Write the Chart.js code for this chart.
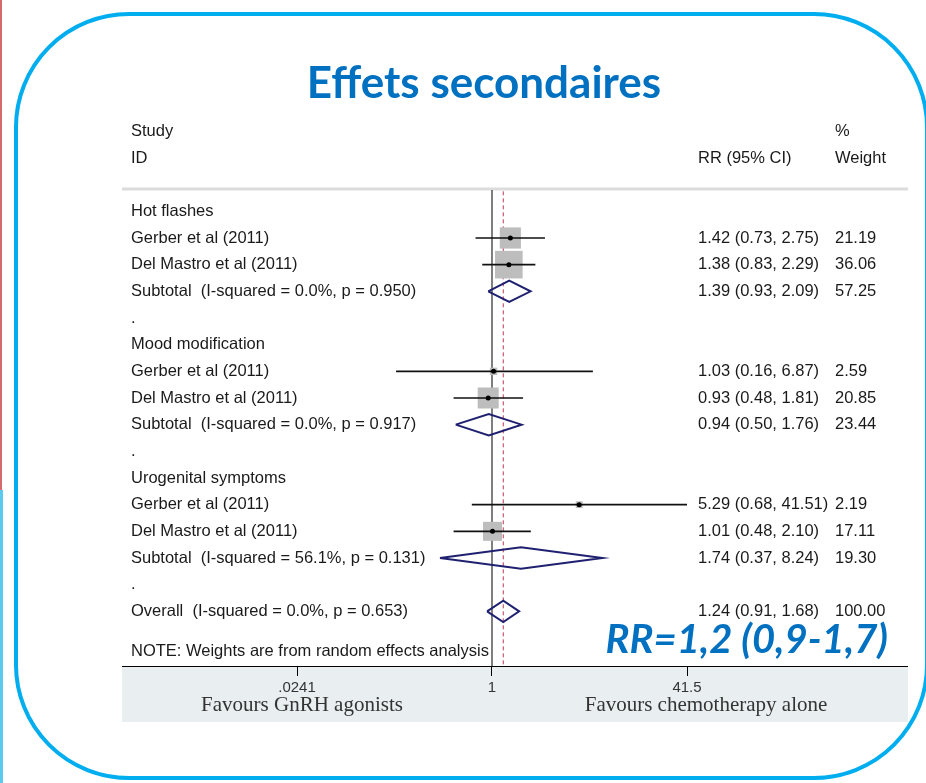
<!DOCTYPE html>
<html>
<head>
<meta charset="utf-8">
<script src="https://cdn.jsdelivr.net/npm/chart.js@4.4.0/dist/chart.umd.min.js"></script>
<style>
    html, body { margin: 0; padding: 0; background: #fff; overflow: hidden; }
    #wrap { position: relative; width: 926px; height: 783px; overflow: hidden; }
    #chart { position: absolute; left: 0; top: 0; }
    .edge-red { position: absolute; left: 0; top: 0; width: 2px; height: 490px; background: #d46a6a; }
    .edge-blue { position: absolute; left: 0; top: 490px; width: 3px; height: 293px; background: #5cc9f0; }
    .frame {
        position: absolute; left: 14px; top: 12px; width: 915px; height: 768px;
        box-sizing: border-box; border: 4.5px solid #00aeef; border-radius: 115px;
    }
    .title {
        position: absolute; left: 284px; top: 59px; width: 400px; text-align: center;
        font: bold 44px/44px Lato, "Open Sans", sans-serif; color: #0070c0;
    }
    .rr {
        position: absolute; right: 38px; top: 618px;
        font: italic bold 40px/40px Lato, "Open Sans", sans-serif; color: #0070c0;
    }
</style>
</head>
<body>
<div id="wrap">
    <canvas id="chart" width="926" height="783"></canvas>
    <div class="edge-red"></div>
    <div class="edge-blue"></div>
    <div class="frame"></div>
    <div class="title">Effets secondaires</div>
    <div class="rr">RR=1,2 (0,9-1,7)</div>
</div>
<script>
// --- data ---
const groups = ['Hot flashes', 'Mood modification', 'Urogenital symptoms'];
const studyNames = ['Gerber et al (2011)', 'Del Mastro et al (2011)',
                    'Gerber et al (2011)', 'Del Mastro et al (2011)',
                    'Gerber et al (2011)', 'Del Mastro et al (2011)'];
const studyRR = [1.42, 1.38, 1.03, 0.93, 5.29, 1.01];
const studyLow = [0.73, 0.83, 0.16, 0.48, 0.68, 0.48];
const studyHigh = [2.75, 2.29, 6.87, 1.81, 41.51, 2.10];
const studyWeight = [21.19, 36.06, 2.59, 20.85, 2.19, 17.11];

const subtotalLabels = ['Subtotal  (I-squared = 0.0%, p = 0.950)',
                        'Subtotal  (I-squared = 0.0%, p = 0.917)',
                        'Subtotal  (I-squared = 56.1%, p = 0.131)'];
const subtotalRR = [1.39, 0.94, 1.74];
const subtotalLow = [0.93, 0.50, 0.37];
const subtotalHigh = [2.09, 1.76, 8.24];
const subtotalWeight = [57.25, 23.44, 19.30];

const overallLabel = 'Overall  (I-squared = 0.0%, p = 0.653)';
const overallRR = [1.24];
const overallLow = [0.91];
const overallHigh = [1.68];
const overallWeight = [100.00];

const xTicks = [0.0241, 1, 41.5];
const xTickLabels = ['.0241', '1', '41.5'];
const noteText = 'NOTE: Weights are from random effects analysis';

// --- row layout (one row per line of the table) ---
const studyRow = i => 5 * Math.floor(i / 2) + 1 + (i % 2);
const subtotalRow = g => 5 * g + 3;
const overallRow = 15;
const noteRow = 16.5;

const FONT = '"Liberation Sans", Arial, sans-serif';
const colLabel = 131, colEs = 698, colWeight = 835;
const diamondHalf = 0.4;

const fmtEs = (rr, lo, hi) => `${rr.toFixed(2)} (${lo.toFixed(2)}, ${hi.toFixed(2)})`;

const datasets = [];

// null line and overall dashed line
datasets.push({
    data: [{ x: 1, y: -0.8 }, { x: 1, y: 17.05 }],
    showLine: true, borderColor: '#555', borderWidth: 1.5, pointRadius: 0, order: 5
});
datasets.push({
    data: [{ x: overallRR[0], y: -0.75 }, { x: overallRR[0], y: 17.05 }],
    showLine: true, borderColor: '#b83a55', borderWidth: 1, borderDash: [4, 3], pointRadius: 0, order: 5
});

// weight squares
datasets.push({
    data: studyRR.map((rr, i) => ({ x: rr, y: studyRow(i) })),
    pointStyle: 'rect',
    pointRadius: studyWeight.map(w => 4.6 * Math.sqrt(w) / Math.SQRT2),
    backgroundColor: '#bdbdbd', borderWidth: 0, order: 3
});

// confidence intervals
studyRR.forEach((rr, i) => {
    datasets.push({
        data: [{ x: studyLow[i], y: studyRow(i) }, { x: studyHigh[i], y: studyRow(i) }],
        showLine: true, borderColor: '#111', borderWidth: 1.7, pointRadius: 0, order: 2
    });
});

// point estimates
datasets.push({
    data: studyRR.map((rr, i) => ({ x: rr, y: studyRow(i) })),
    pointRadius: 2.5, backgroundColor: '#000', borderWidth: 0, order: 1
});

// diamonds (subtotals + overall)
const diamondRR = subtotalRR.concat(overallRR);
const diamondLow = subtotalLow.concat(overallLow);
const diamondHigh = subtotalHigh.concat(overallHigh);
const diamondRows = subtotalRR.map((v, g) => subtotalRow(g)).concat([overallRow]);
diamondRR.forEach((rr, k) => {
    const r = diamondRows[k];
    datasets.push({
        data: [
            { x: diamondLow[k], y: r }, { x: rr, y: r - diamondHalf },
            { x: diamondHigh[k], y: r }, { x: rr, y: r + diamondHalf },
            { x: diamondLow[k], y: r }
        ],
        showLine: true, tension: 0, borderColor: '#1f2170', borderWidth: 2,
        pointRadius: 0, fill: false, order: 1
    });
});

const forestText = {
    id: 'forestText',
    beforeDraw(chart) {
        const c = chart.ctx, a = chart.chartArea;
        c.save();
        // axis band
        c.fillStyle = '#e9eef1';
        c.fillRect(122, a.bottom, 786, 56);
        // header separator
        c.strokeStyle = '#dcdcdc';
        c.lineWidth = 3;
        c.beginPath();
        c.moveTo(122, a.top - 1);
        c.lineTo(908, a.top - 1);
        c.stroke();
        c.restore();
    },
    afterDraw(chart) {
        const c = chart.ctx, a = chart.chartArea, y = chart.scales.y;
        c.save();
        c.strokeStyle = '#000';
        c.lineWidth = 1;
        c.beginPath();
        c.moveTo(122, a.bottom + 0.5);
        c.lineTo(908, a.bottom + 0.5);
        c.stroke();

        c.fillStyle = '#1a1a1a';
        c.font = '16.5px ' + FONT;
        c.textBaseline = 'middle';
        c.textAlign = 'left';
        const put = (txt, x, row) => c.fillText(txt, x, y.getPixelForValue(row));

        put('Study', colLabel, -3);
        put('ID', colLabel, -2);
        put('RR (95% CI)', colEs, -2);
        put('%', colWeight, -3);
        put('Weight', colWeight, -2);

        groups.forEach((g, gi) => {
            put(g, colLabel, 5 * gi);
            put('.', colLabel, 5 * gi + 4);
            put(subtotalLabels[gi], colLabel, subtotalRow(gi));
            put(fmtEs(subtotalRR[gi], subtotalLow[gi], subtotalHigh[gi]), colEs, subtotalRow(gi));
            put(subtotalWeight[gi].toFixed(2), colWeight, subtotalRow(gi));
        });
        studyNames.forEach((s, i) => {
            put(s, colLabel, studyRow(i));
            put(fmtEs(studyRR[i], studyLow[i], studyHigh[i]), colEs, studyRow(i));
            put(studyWeight[i].toFixed(2), colWeight, studyRow(i));
        });
        put(overallLabel, colLabel, overallRow);
        put(fmtEs(overallRR[0], overallLow[0], overallHigh[0]), colEs, overallRow);
        put(overallWeight[0].toFixed(2), colWeight, overallRow);
        put(noteText, colLabel, noteRow);

        c.fillStyle = '#333';
        c.font = '21px "Liberation Serif", "Times New Roman", serif';
        c.textAlign = 'center';
        c.fillText('Favours GnRH agonists', 302, a.bottom + 39);
        c.fillText('Favours chemotherapy alone', 706, a.bottom + 39);
        c.restore();
    }
};

new Chart(document.getElementById('chart'), {
    type: 'scatter',
    data: { datasets: datasets },
    options: {
        responsive: false,
        animation: false,
        devicePixelRatio: 1,
        layout: { padding: { left: 297, right: 239, top: 190, bottom: 87 } },
        plugins: { legend: { display: false }, tooltip: { enabled: false } },
        scales: {
            x: {
                type: 'logarithmic',
                min: xTicks[0],
                max: xTicks[xTicks.length - 1],
                afterBuildTicks: s => { s.ticks = xTicks.map(v => ({ value: v })); },
                afterFit: s => { s.height = 30; },
                grid: { drawOnChartArea: false, tickLength: 10, color: '#000', lineWidth: 1 },
                border: { display: true, color: '#000', width: 1 },
                ticks: {
                    autoSkip: false, maxRotation: 0, padding: 3, color: '#333',
                    font: { family: FONT, size: 15 },
                    callback: (v, i) => xTickLabels[i]
                }
            },
            y: { type: 'linear', min: -0.8, max: 17.05, reverse: true, display: false }
        }
    },
    plugins: [forestText]
});
</script>
</body>
</html>
